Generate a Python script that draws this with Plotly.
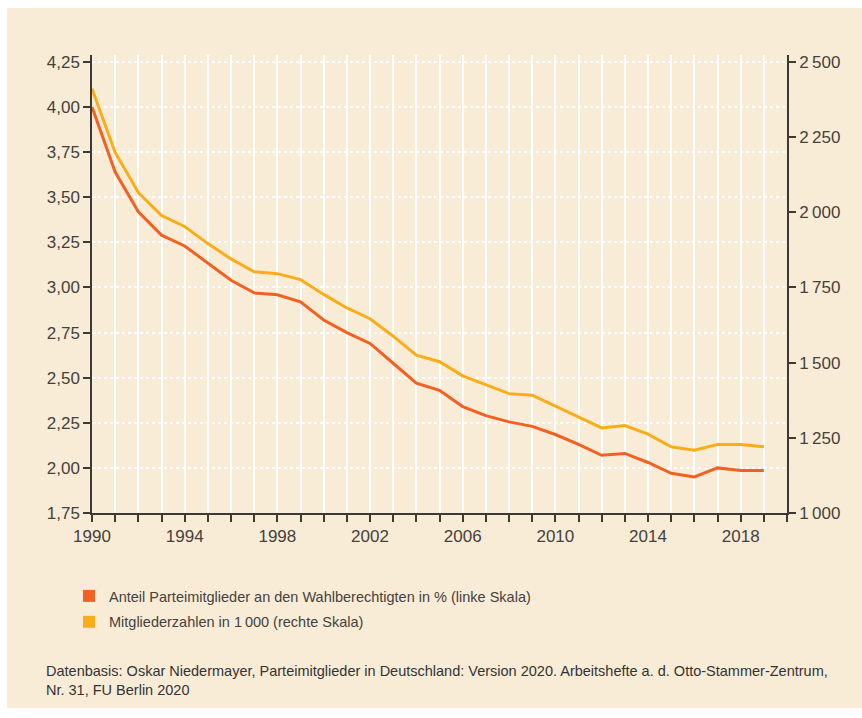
import plotly.graph_objects as go

years = list(range(1990, 2020))
anteil_pct = [4.00, 3.64, 3.42, 3.29, 3.23, 3.135, 3.04, 2.97, 2.96, 2.92,
              2.82, 2.75, 2.69, 2.58, 2.47, 2.43, 2.34, 2.29, 2.255, 2.23,
              2.185, 2.13, 2.07, 2.08, 2.03, 1.97, 1.95, 2.00, 1.985, 1.985]
mitglieder_tsd = [2411, 2199, 2066, 1989, 1953, 1896, 1845, 1802, 1796, 1776,
                  1727, 1682, 1646, 1588, 1525, 1503, 1456, 1427, 1397, 1392,
                  1355, 1320, 1283, 1291, 1262, 1220, 1209, 1228, 1228, 1220]

x_tickvals = list(range(1990, 2021))
x_ticktext = [str(y) if (y - 1990) % 4 == 0 and y < 2020 else "" for y in x_tickvals]
left_tickvals = [1.75, 2.00, 2.25, 2.50, 2.75, 3.00, 3.25, 3.50, 3.75, 4.00, 4.25]
left_ticktext = ["1,75", "2,00", "2,25", "2,50", "2,75", "3,00", "3,25", "3,50", "3,75", "4,00", "4,25"]
right_tickvals = [1000, 1250, 1500, 1750, 2000, 2250, 2500]
right_ticktext = ["1\u2009000", "1\u2009250", "1\u2009500", "1\u2009750", "2\u2009000", "2\u2009250", "2\u2009500"]

name_pct = "Anteil Parteimitglieder an den Wahlberechtigten in % (linke Skala)"
name_tsd = "Mitgliederzahlen in 1\u2009000 (rechte Skala)"
source = ("Datenbasis: Oskar Niedermayer, Parteimitglieder in Deutschland: Version 2020. "
          "Arbeitshefte a. d. Otto-Stammer-Zentrum,<br>Nr. 31, FU Berlin 2020")

RED = "#F26122"
YEL = "#FAAD19"
BG = "#F9ECD7"
AX = "#3d3a36"
TXT = "#45413c"
FONT = "Liberation Sans, Arial, Helvetica, sans-serif"

fig = go.Figure()
fig.add_trace(go.Scatter(x=years, y=mitglieder_tsd, yaxis="y2", mode="lines",
                         line=dict(color=YEL, width=3), showlegend=False, name=name_tsd))
fig.add_trace(go.Scatter(x=years, y=anteil_pct, mode="lines",
                         line=dict(color=RED, width=3), showlegend=False, name=name_pct))
# legend entries (square symbols)
fig.add_trace(go.Scatter(x=[None], y=[None], mode="markers", name=name_pct,
                         marker=dict(symbol="square", size=12, color=RED), legendgroup="a"))
fig.add_trace(go.Scatter(x=[None], y=[None], mode="markers", name=name_tsd,
                         marker=dict(symbol="square", size=12, color=YEL), legendgroup="b"))

L, R, T, B = 92, 75, 55, 205
W, H = 862, 718
pw, ph = W - L - R, H - T - B

def px(xp):
    return (xp - L) / pw

def py(yp):
    return (H - B - yp) / ph

fig.add_shape(type="rect", xref="paper", yref="paper", layer="below",
              x0=px(7), x1=px(870), y0=py(708), y1=py(8),
              fillcolor=BG, line=dict(width=0))

fig.add_annotation(xref="paper", yref="paper", x=px(44), y=py(661), xanchor="left", yanchor="top",
                   text=source, showarrow=False, align="left",
                   font=dict(family=FONT, size=14.5, color="#333"))

fig.update_layout(
    width=W, height=H,
    margin=dict(l=L, r=R, t=T, b=B),
    paper_bgcolor="white",
    plot_bgcolor="rgba(0,0,0,0)",
    font=dict(family=FONT, size=17, color=TXT),
    showlegend=True,
    legend=dict(x=px(69), y=py(580), xanchor="left", yanchor="top",
                bgcolor="rgba(0,0,0,0)", font=dict(family=FONT, size=14.5, color=TXT),
                tracegroupgap=4, itemwidth=30),
    xaxis=dict(range=[1990, 2020], tickvals=x_tickvals, ticktext=x_ticktext,
               showgrid=True, gridcolor="white", gridwidth=1.5,
               showline=True, linecolor=AX, linewidth=1.5,
               ticks="outside", ticklen=7, tickcolor=AX, tickwidth=1.5,
               zeroline=False, tickfont=dict(size=17, color=TXT)),
    yaxis=dict(range=[1.75, 4.2887], tickvals=left_tickvals, ticktext=left_ticktext,
               showgrid=True, gridcolor="white", gridwidth=1.5, griddash="dot",
               showline=True, linecolor=AX, linewidth=1.5,
               ticks="outside", ticklen=7, tickcolor=AX, tickwidth=1.5,
               zeroline=False, tickfont=dict(size=17, color=TXT)),
    yaxis2=dict(range=[1000, 2523.2], tickvals=right_tickvals, ticktext=right_ticktext,
                overlaying="y", side="right", showgrid=False,
                showline=True, linecolor=AX, linewidth=1.5,
                ticks="outside", ticklen=7, tickcolor=AX, tickwidth=1.5,
                zeroline=False, tickfont=dict(size=17, color=TXT)),
)

fig.write_html("out.html", config={"displayModeBar": False},
               post_script="document.body.style.margin='0';document.body.style.padding='0';")
